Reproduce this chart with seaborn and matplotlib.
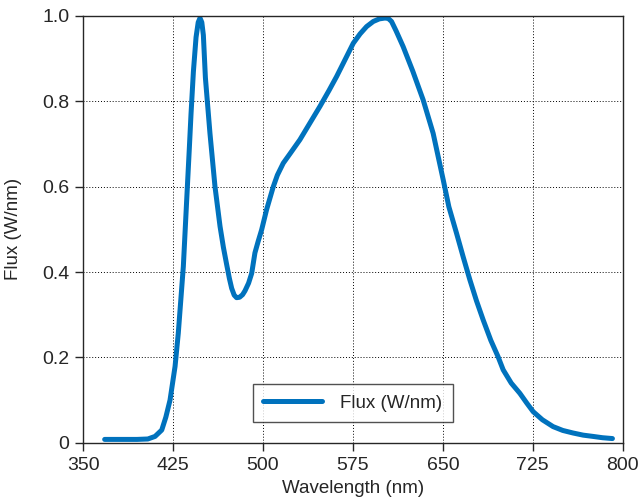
import numpy as np
import pandas as pd
import matplotlib
matplotlib.use("Agg")
import matplotlib.pyplot as plt
import seaborn as sns

# spectrum
wavelength = [368, 380, 395, 404, 410, 415.6, 419, 422.5, 426.7, 429.4, 433.6,
              436.4, 438.6, 440, 442, 444.2, 446, 447.5, 449, 450.3, 452, 455.8,
              460, 464.2, 467, 469.7, 472, 473.9, 476, 478, 480.5, 483,
              485, 488, 490.6, 493.3, 496, 498.9, 503, 508.6, 512, 516.9, 522.5,
              530.8, 540, 547.5, 555, 561.4, 568, 575.3, 581, 586.4, 592, 597,
              601.7, 604.5, 607.2, 611, 616.9, 625, 633.6, 641.9, 650.3, 655,
              661.4, 667, 672.5, 678, 683.6, 690, 696, 700.3, 707, 714.2, 720,
              725.3, 733, 741.9, 750, 758.6, 767, 775.3, 783, 791.4]
flux = [0.008, 0.008, 0.008, 0.009, 0.015, 0.03, 0.06, 0.10, 0.179, 0.257, 0.413,
        0.569, 0.69, 0.77, 0.87, 0.95, 0.985, 0.995, 0.985, 0.955, 0.855, 0.725,
        0.60, 0.507, 0.458, 0.418, 0.385, 0.362, 0.346, 0.340, 0.341, 0.347,
        0.356, 0.374, 0.397, 0.445, 0.472, 0.499, 0.546, 0.60, 0.627, 0.655, 0.677,
        0.71, 0.753, 0.788, 0.825, 0.858, 0.895, 0.936, 0.958, 0.975, 0.987, 0.993,
        0.995, 0.994, 0.987, 0.965, 0.928, 0.87, 0.803, 0.725, 0.616, 0.553,
        0.491, 0.435, 0.382, 0.333, 0.288, 0.24, 0.202, 0.171, 0.14, 0.116, 0.093,
        0.073, 0.054, 0.038, 0.029, 0.023, 0.018, 0.015, 0.012, 0.010]

df = pd.DataFrame({"Wavelength (nm)": wavelength, "Flux (W/nm)": flux})

sns.set_style("white")
plt.rcParams["font.family"] = ["Liberation Sans", "DejaVu Sans"]

fig, ax = plt.subplots(figsize=(6.44, 4.97), dpi=100)
fig.subplots_adjust(left=0.129, right=0.967, top=0.968, bottom=0.109)

sns.lineplot(data=df, x="Wavelength (nm)", y="Flux (W/nm)", ax=ax,
             color="#0072BD", linewidth=3.6, label="Flux (W/nm)", sort=False)

ax.set_xlim(350, 800)
ax.set_ylim(0, 1.0)
ax.set_xticks(np.arange(350, 801, 75))
ax.set_yticks([0, 0.2, 0.4, 0.6, 0.8, 1.0])
ax.set_yticklabels(["0", "0.2", "0.4", "0.6", "0.8", "1.0"])
ax.grid(True, color="black", linestyle=(0, (1, 2)), linewidth=0.7)

for s in ax.spines.values():
    s.set_color("#262626")
    s.set_linewidth(1.0)

ax.tick_params(axis="both", direction="out", length=6, width=1, color="#262626",
               labelsize=14, labelcolor="#262626", bottom=True, left=True, pad=4)
ax.set_xlabel("Wavelength (nm)", fontsize=13.5, color="#262626", labelpad=4.5)
ax.set_ylabel("Flux (W/nm)", fontsize=13.5, color="#262626", labelpad=14)

leg = ax.legend(loc="lower center", bbox_to_anchor=(0.5, 0.049), fontsize=13.5,
                frameon=True, fancybox=False, handlelength=3.1, borderpad=0.55,
                handletextpad=1.0, borderaxespad=0)
leg.get_frame().set_edgecolor("#262626")
leg.get_frame().set_linewidth(1.0)
for t in leg.get_texts():
    t.set_color("#262626")

fig.savefig("out.png", dpi=100)
